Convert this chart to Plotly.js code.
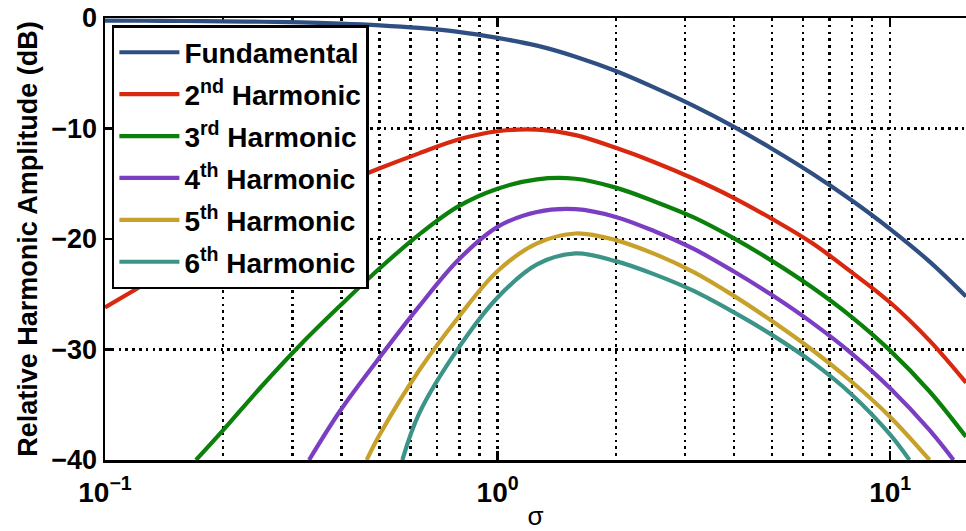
<!DOCTYPE html>
<html><head><meta charset="utf-8">
<script src="https://cdn.plot.ly/plotly-3.0.1.min.js"></script>
<style>html,body{margin:0;padding:0;background:#fff;overflow:hidden}</style>
</head><body><div id="chart" style="width:966px;height:531px"></div>
<script>
// ---- data ----
const seriesNames = ['Fundamental', '2<sup>nd</sup> Harmonic', '3<sup>rd</sup> Harmonic',
  '4<sup>th</sup> Harmonic', '5<sup>th</sup> Harmonic', '6<sup>th</sup> Harmonic'];

const sigmaFund = [0.1, 0.126, 0.158, 0.2, 0.251, 0.316, 0.398, 0.501, 0.631, 0.794, 1, 1.26, 1.58, 2, 2.51, 3.16, 3.98, 5.01, 6.31, 7.94, 10, 12.6, 15.6];
const fundamental = [-0.24, -0.25, -0.27, -0.3, -0.34, -0.4, -0.5, -0.66, -0.9, -1.25, -1.8, -2.5, -3.5, -4.8, -6.3, -7.95, -9.8, -11.85, -14.05, -16.45, -19.1, -22.05, -25.2];

const sigma2 = [0.1, 0.126, 0.158, 0.2, 0.251, 0.316, 0.398, 0.501, 0.631, 0.794, 1, 1.26, 1.58, 2, 2.51, 3.16, 3.98, 5.01, 6.31, 7.94, 10, 12.6, 15.6];
const harm2 = [-26.2, -24.1, -22.0, -20.05, -18.25, -16.6, -15.05, -13.6, -12.25, -11.0, -10.25, -10.1, -10.6, -11.75, -13.05, -14.55, -16.25, -18.2, -20.35, -22.95, -25.75, -29.2, -33.0];

const sigma3 = [0.1705, 0.2, 0.251, 0.316, 0.398, 0.501, 0.631, 0.794, 1, 1.26, 1.58, 2, 2.51, 3.16, 3.98, 5.01, 6.31, 7.94, 10, 12.6, 15.6];
const harm3 = [-40, -37.3, -33.3, -29.5, -26.0, -22.65, -19.6, -17.05, -15.45, -14.6, -14.55, -15.35, -16.6, -18.05, -19.9, -22.0, -24.35, -27.0, -30.1, -33.8, -37.9];

const sigma4 = [0.331, 0.398, 0.501, 0.631, 0.794, 1, 1.26, 1.58, 2, 2.51, 3.16, 3.98, 5.01, 6.31, 7.94, 10, 12.6, 14.5];
const harm4 = [-40, -35.5, -30.7, -26.1, -21.9, -18.9, -17.55, -17.3, -18.0, -19.3, -20.9, -22.9, -25.1, -27.55, -30.3, -33.5, -37.3, -40];

const sigma5 = [0.464, 0.501, 0.631, 0.794, 1, 1.26, 1.58, 2, 2.51, 3.16, 3.98, 5.01, 6.31, 7.94, 10, 12.6];
const harm5 = [-40, -37.7, -31.9, -27.1, -22.9, -20.4, -19.5, -20.1, -21.35, -23.0, -25.1, -27.45, -30.0, -32.85, -36.1, -40];

const sigma6 = [0.572, 0.631, 0.794, 1, 1.26, 1.58, 2, 2.51, 3.16, 3.98, 5.01, 6.31, 7.94, 10, 11.2];
const harm6 = [-40, -35.8, -29.9, -25.3, -22.3, -21.3, -22.0, -23.2, -24.7, -26.6, -28.7, -31.1, -34.0, -37.7, -40];

const xTickVals = [0.1, 1, 10];
const xTickText = ['10<sup>−1</sup>', '10<sup>0</sup>', '10<sup>1</sup>'];
const xMinorVals = [0.2, 0.3, 0.4, 0.5, 0.6, 0.7, 0.8, 0.9, 2, 3, 4, 5, 6, 7, 8, 9];
const yTickVals = [0, -10, -20, -30, -40];

// ---- styling ----
const colors = ['#2F4E82', '#D8280F', '#0B800B', '#7B3DC2', '#C8A12A', '#3B9487'];
const xs = [sigmaFund, sigma2, sigma3, sigma4, sigma5, sigma6];
const ys = [fundamental, harm2, harm3, harm4, harm5, harm6];
const FONT = 'Liberation Sans, Arial, Helvetica, sans-serif';

const traces = ys.map((y, i) => ({
  x: xs[i], y: y, name: seriesNames[i], type: 'scatter', mode: 'lines',
  line: {color: colors[i], width: 4.2, shape: 'spline', smoothing: 1},
  legendgroup: 'g' + i
}));

const gridDash = '2.5px,4.3px';
const layout = {
  width: 966, height: 531,
  margin: {l: 105, r: 0, t: 18, b: 71},
  paper_bgcolor: '#fff', plot_bgcolor: '#fff',
  font: {family: FONT, color: '#000', size: 26, weight: 'bold'},
  showlegend: true,
  legend: {
    x: 0.008, y: 0.984, xanchor: 'left', yanchor: 'top',
    bgcolor: '#fff', bordercolor: '#000', borderwidth: 2.5,
    font: {family: FONT, size: 28, weight: 'bold', color: '#000'},
    itemwidth: 60, tracegroupgap: 2.5, traceorder: 'grouped'
  },
  xaxis: {
    type: 'log', range: [-1, Math.log10(15.6)],
    tickmode: 'array', tickvals: xTickVals, ticktext: xTickText,
    ticks: 'inside', ticklen: 9, tickwidth: 2.5, tickcolor: '#000',
    tickfont: {family: FONT, size: 28, weight: 'bold'},
    ticklabelstandoff: 6,
    showline: true, linecolor: '#000', linewidth: 2.5, mirror: 'ticks',
    showgrid: true, gridcolor: '#000', gridwidth: 2.5, griddash: gridDash,
    minor: {tickmode: 'array', tickvals: xMinorVals, showgrid: true, gridcolor: '#000',
            gridwidth: 2.5, griddash: gridDash, ticks: ''},
    zeroline: false,
    title: {text: 'σ', font: {family: FONT, size: 26, weight: 'normal'}, standoff: 6}
  },
  yaxis: {
    range: [-40, 0], tickmode: 'array', tickvals: yTickVals,
    ticks: 'inside', ticklen: 9, tickwidth: 2.5, tickcolor: '#000',
    tickfont: {family: FONT, size: 27, weight: 'bold'},
    showline: true, linecolor: '#000', linewidth: 2.5, mirror: false,
    showgrid: true, gridcolor: '#000', gridwidth: 2.5, griddash: gridDash,
    zeroline: false,
    title: {text: 'Relative Harmonic Amplitude (dB)', font: {family: FONT, size: 27, weight: 'bold'}, standoff: 6}
  }
};

Plotly.newPlot('chart', traces, layout, {displayModeBar: false, staticPlot: true});
</script></body></html>
